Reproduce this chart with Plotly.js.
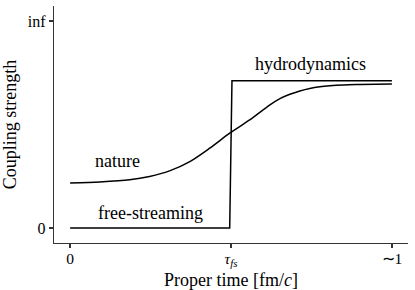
<!DOCTYPE html>
<html>
<head>
<meta charset="utf-8">
<script src="https://cdn.plot.ly/plotly-3.0.1.min.js"></script>
<style>html,body{margin:0;padding:0;background:#fff;}#chart{width:415px;height:290px;}</style>
</head>
<body>
<div id="chart"></div>
<script>
// Nature curve
const natureX = [0, 0.092, 0.185, 0.247, 0.309, 0.372, 0.434, 0.496, 0.558, 0.621, 0.652, 0.683, 0.714, 0.745, 0.776, 0.807, 0.850, 0.900, 1.0];
const natureY = [0.218, 0.223, 0.233, 0.249, 0.276, 0.321, 0.386, 0.458, 0.522, 0.595, 0.625, 0.646, 0.662, 0.674, 0.682, 0.687, 0.691, 0.693, 0.696];
// Free-streaming -> hydrodynamics step
const stepX = [0, 0.496, 0.503, 1.0];
const stepY = [0, 0, 0.711, 0.711];
// Ticks
const xTickVals = [0, 0.5, 1];
const xTickText = ['0', '<i>τ</i><sub><i>fs</i></sub>', '∼1'];
const yTickVals = [0, 1];
const yTickText = ['0', 'inf'];
// Labels
const labels = [
  {text: 'nature', x: 0.148, y: 0.324},
  {text: 'free-streaming', x: 0.25, y: 0.073},
  {text: 'hydrodynamics', x: 0.748, y: 0.792}
];

const FONT = "'Liberation Serif', 'Times New Roman', serif";
const data = [
  {x: natureX, y: natureY, mode: 'lines', line: {color: '#000', width: 1.5, shape: 'spline', smoothing: 0.8}, hoverinfo: 'skip'},
  {x: stepX, y: stepY, mode: 'lines', line: {color: '#000', width: 1.5}, hoverinfo: 'skip'}
];
const layout = {
  width: 415, height: 290,
  margin: {l: 54, r: 7, t: 6, b: 47},
  paper_bgcolor: '#fff', plot_bgcolor: '#fff',
  showlegend: false,
  font: {family: FONT, size: 18, color: '#000'},
  xaxis: {
    range: [-0.05, 1.05], showgrid: false, zeroline: false,
    showline: true, linecolor: '#333', linewidth: 1.2,
    ticks: 'outside', ticklen: 4, tickwidth: 1.2, tickcolor: '#333',
    ticklabelstandoff: -3,
    tickvals: xTickVals, ticktext: xTickText,
    tickfont: {family: FONT, size: 15.5},
    title: {text: 'Proper time [fm/<i>c</i>]', font: {family: FONT, size: 18}}
  },
  yaxis: {
    range: [-0.072, 1.072], showgrid: false, zeroline: false,
    showline: true, linecolor: '#333', linewidth: 1.2,
    ticks: 'outside', ticklen: 4, tickwidth: 1.2, tickcolor: '#333',
    tickvals: yTickVals, ticktext: yTickText,
    tickfont: {family: FONT, size: 16},
    title: {text: 'Coupling strength', font: {family: FONT, size: 18}, standoff: 6}
  },
  annotations: labels.map(l => ({
    text: l.text, x: l.x, y: l.y, xref: 'x', yref: 'y',
    showarrow: false, xanchor: 'center', yanchor: 'middle',
    font: {family: FONT, size: 18, color: '#000'}
  }))
};
Plotly.newPlot('chart', data, layout, {staticPlot: true, displayModeBar: false});
</script>
</body>
</html>
